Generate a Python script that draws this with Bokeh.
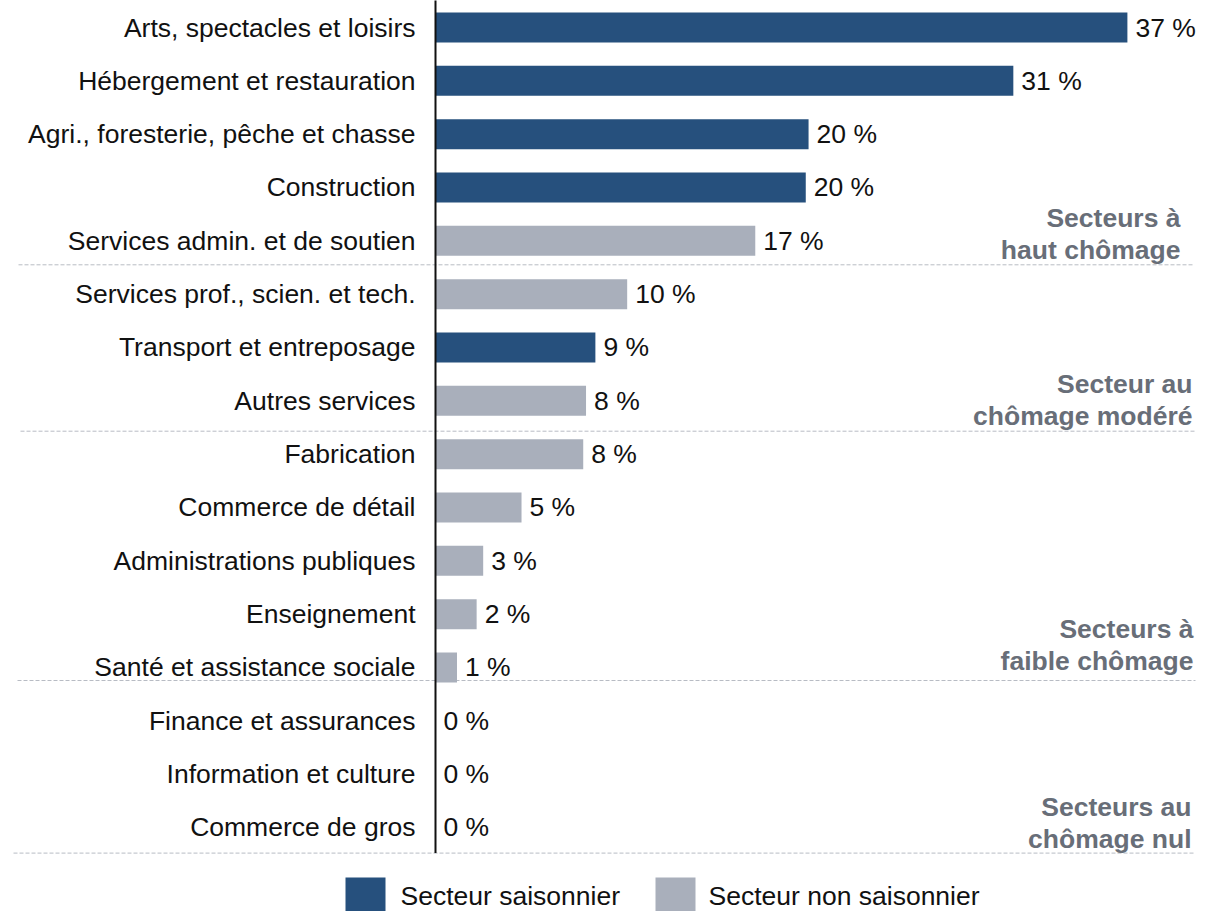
from bokeh.plotting import figure
from bokeh.models import Range1d, ColumnDataSource
from bokeh.core.properties import value
from bokeh.embed import file_html
from bokeh.resources import INLINE

# ---------------- data ----------------
categories = [
    "Arts, spectacles et loisirs",
    "Hébergement et restauration",
    "Agri., foresterie, pêche et chasse",
    "Construction",
    "Services admin. et de soutien",
    "Services prof., scien. et tech.",
    "Transport et entreposage",
    "Autres services",
    "Fabrication",
    "Commerce de détail",
    "Administrations publiques",
    "Enseignement",
    "Santé et assistance sociale",
    "Finance et assurances",
    "Information et culture",
    "Commerce de gros",
]
values = [37.0, 30.9, 19.95, 19.8, 17.1, 10.25, 8.55, 8.05, 7.9, 4.6, 2.55, 2.2, 1.15, 0.0, 0.0, 0.0]
value_labels = ["37 %", "31 %", "20 %", "20 %", "17 %", "10 %", "9 %", "8 %", "8 %",
                "5 %", "3 %", "2 %", "1 %", "0 %", "0 %", "0 %"]
seasonal = [True, True, True, True, False, False, True, False, False,
            False, False, False, False, False, False, False]
group_line1 = ["Secteurs à", "Secteur au", "Secteurs à", "Secteurs au"]
group_line2 = ["haut chômage", "chômage modéré", "faible chômage", "chômage nul"]
legend_labels = ["Secteur saisonnier", "Secteur non saisonnier"]

BLUE = "#26507d"
GREY = "#a9afbb"
GROUP_COLOR = "#686e78"
SEP_COLOR = "#b8bcc4"
FONT = "Liberation Sans"

# ---------------- layout helpers ----------------
W, H = 1219, 911
PX = 18.7          # pixels per percentage point
ROW = 53.333       # pixels per row
X0_PX = 435        # frame pixel of x = 0
Y0_PX = 27         # frame pixel of first row centre

def fx(px):        # frame pixel -> data x
    return (px - X0_PX) / PX

def fy(py):        # frame pixel -> data y (row units)
    return (py - Y0_PX) / ROW

p = figure(width=W, height=H, output_backend="svg", toolbar_location=None,
           x_range=Range1d(fx(0), fx(W)), y_range=Range1d(fy(H), fy(0)),
           min_border=0, outline_line_color=None)
p.xaxis.visible = False
p.yaxis.visible = False
p.xgrid.visible = False
p.ygrid.visible = False
p.background_fill_color = "white"
p.border_fill_color = "white"

idx = list(range(len(categories)))
src = ColumnDataSource(dict(
    y=idx, v=values, cat=categories, lab=value_labels,
    lx=[v + 8 / PX for v in values],
    color=[BLUE if s else GREY for s in seasonal],
))

# separators (dashed)
sep_y_px = [264.3, 430.7, 680.0, 852.6]
sep_x0_px = [18, 20, 17, 13]
sep_x1_px = [1192, 1195, 1195, 1195]
p.segment(x0=[fx(a) for a in sep_x0_px], x1=[fx(b) for b in sep_x1_px],
          y0=[fy(y) for y in sep_y_px], y1=[fy(y) for y in sep_y_px],
          line_color=SEP_COLOR, line_width=1, line_dash="4 2")

# bars
p.hbar(y="y", left=0, right="v", height=30 / ROW, fill_color="color",
       line_color=None, source=src)

# vertical axis line
p.segment(x0=[0], x1=[0], y0=[fy(-10)], y1=[fy(852.6)], line_color="#111111", line_width=2)

# category labels
p.text(x=fx(415), y="y", text="cat", source=src, text_align="right",
       text_baseline="middle", text_font=value(FONT), text_font_size="26.5px",
       text_color="#111111")

# value labels
p.text(x="lx", y="y", text="lab", source=src, text_align="left",
       text_baseline="middle", text_font=value(FONT), text_font_size="26.5px",
       text_color="#111111")

# group labels
g_right_px = [1180, 1192, 1193, 1191]
g1_y_px = [217, 383, 628, 806]
g2_y_px = [249, 415, 660, 838]
p.text(x=[fx(r) for r in g_right_px] * 2,
       y=[fy(y) for y in g1_y_px] + [fy(y) for y in g2_y_px],
       text=group_line1 + group_line2, text_align="right", text_baseline="middle",
       text_font=value(FONT), text_font_size="26.5px", text_font_style="bold",
       text_color=GROUP_COLOR)

# legend
leg_y = 894
p.rect(x=[fx(365), fx(675)], y=[fy(leg_y), fy(leg_y)], width=40, height=34,
       width_units="screen", height_units="screen",
       fill_color=[BLUE, GREY], line_color=None)
p.text(x=[fx(400), fx(708)], y=[fy(leg_y + 1), fy(leg_y + 1)], text=legend_labels,
       text_align="left", text_baseline="middle", text_font=value(FONT),
       text_font_size="26.5px", text_color="#111111")

open("out.html", "w").write(file_html(p, INLINE))
